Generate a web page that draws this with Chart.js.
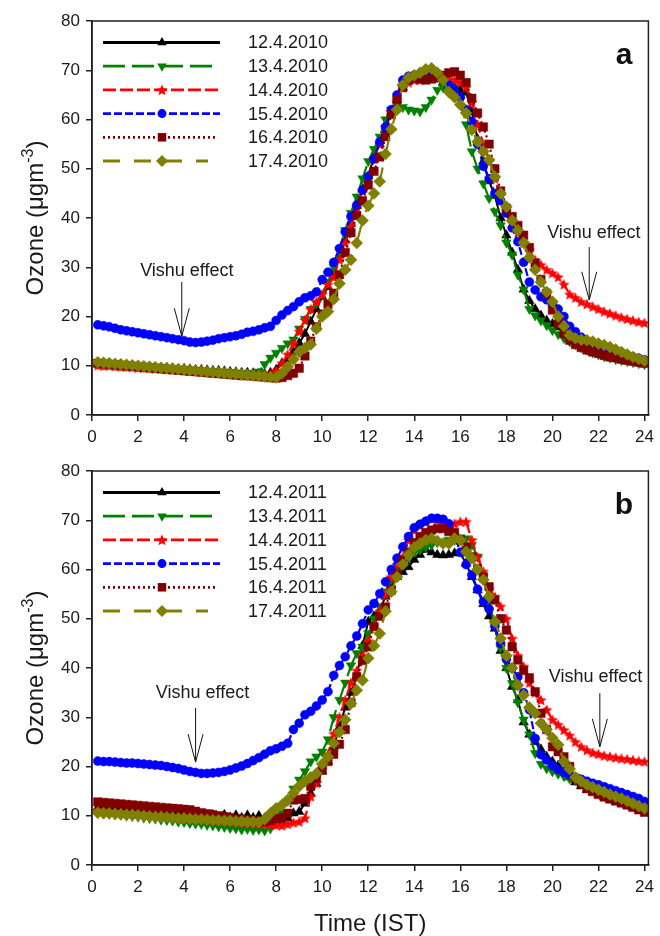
<!DOCTYPE html>
<html>
<head>
<meta charset="utf-8">
<script src="https://cdn.jsdelivr.net/npm/chart.js@4.4.0/dist/chart.umd.min.js"></script>
<style>
  body { margin: 0; background: #fff; }
  #wrap { position: relative; width: 660px; height: 936px; }
  .box { position: absolute; left: 0; width: 660px; }
</style>
</head>
<body>
<div id="wrap">
  <div class="box" style="top:0;height:450px"><canvas id="chartA" width="660" height="450"></canvas></div>
  <div class="box" style="top:450px;height:486px"><canvas id="chartB" width="660" height="486"></canvas></div>
</div>
<script>
// sample times, every 15 min (hours IST)
const hours = Array.from({ length: 96 }, (_, i) => (i + 1) * 0.25);
const xTicks = [0, 2, 4, 6, 8, 10, 12, 14, 16, 18, 20, 22, 24];
const yTicks = [0, 10, 20, 30, 40, 50, 60, 70, 80];

const dates2010 = ['12.4.2010', '13.4.2010', '14.4.2010', '15.4.2010', '16.4.2010', '17.4.2010'];
const dates2011 = ['12.4.2011', '13.4.2011', '14.4.2011', '15.4.2011', '16.4.2011', '17.4.2011'];

// ---- 2010 (panel a), ozone ugm-3
const o3_12apr2010 = [10.4,10.4,10.3,10.2, 10.1,10.1,10.0,9.9, 9.8,9.8,9.7,9.6, 9.6,9.5,9.4,9.4, 9.3,9.2,9.2,9.1, 9.0,9.0,8.9,8.8,
  8.7,8.6,8.6,8.5, 8.4,8.3,8.6,9.2, 10.5,11.3,12.8,14.6, 16.5,19,21.5,24, 26,29,32.5,35.5, 38.8,42.5,45.8,48.5,
  52.5,55,58,61.5, 64,66.5,68,68.5, 69,70,69.5,68.5, 67.5,67,66.5,66, 65.5,61.5,56,51.5, 47.5,44.5,40,36.5,
  33,29.5,25.5,23.2, 21.5,20.2,19.2,18.5, 17.8,17,16.3,15.6, 15,14.3,13.7,13.2, 12.8,12.4,12,11.7, 11.4,11.1,10.9,10.7];
const o3_13apr2010 = [10.3,10.2,10.2,10.1, 10.0,9.9,9.9,9.8, 9.7,9.6,9.6,9.5, 9.4,9.4,9.3,9.2, 9.1,9.1,9.0,8.9, 8.9,8.8,8.7,8.7,
  8.6,8.5,8.5,8.4, 8.8,10.3,11.6,12.6, 13.6,14.5,15.3,17.5, 19.5,21.5,22.7,24.5, 27,30,33.5,37.5, 41,44.3,48,51.5,
  54,56.5,60,62, 63.2,62.5,62,61.8, 61.6,62.5,64,66, 66.5,67,66.5,64, 59,53.5,50,47, 44,41.3,38.5,35,
  32.5,28.5,25.5,21.5, 20.2,19.2,18.2,17.2, 16.4,15.6,14.9,14.3, 13.7,13.2,12.7,12.3, 11.9,11.6,11.3,11.1, 10.9,10.7,10.5,10.3];
const o3_14apr2010 = [10.1,10.0,10.0,9.9, 9.8,9.8,9.7,9.6, 9.6,9.5,9.4,9.4, 9.3,9.2,9.2,9.1, 9.0,9.0,8.9,8.8, 8.8,8.7,8.6,8.6,
  8.5,8.4,8.4,8.3, 8.2,8.2,8.3,9.0, 10.5,12.3,14.5,17, 19.3,21.5,23,24.5, 26.5,28,31.5,35, 38.5,42,45.5,48.5,
  52,55,58.5,61.5, 64,66.5,67.5,68, 68,68.5,68.5,68.5, 68.5,68.2,68,67.5, 66.5,63.5,59,55, 51.8,48,44.5,41.5,
  39,37,35,33.5, 31.5,30.5,29.5,28.8, 28,26.5,24.5,23.8, 23,22.5,22,21.5, 21,20.6,20.2,19.8, 19.5,19.2,18.9,18.7];
const o3_15apr2010 = [18.3,18.1,17.9,17.6, 17.3,17.1,16.9,16.7, 16.5,16.3,16.1,15.9, 15.7,15.5,15.3,15.1, 14.8,14.7,14.8,15.0, 15.2,15.5,15.7,15.9,
  16.1,16.4,16.8,17.0, 17.3,17.7,18.0,19.2, 20.3,21.2,22,23, 23.8,24.2,25,27.5, 29,31,33.8,37.2, 40.3,42.6,45.7,48.4,
  52,55.5,58.5,62, 65,68,68.8,69, 68.5,68.5,68.8,68.5, 68,67,66,64.5, 62,59.6,55,50.5, 48,45,43.5,41,
  38,35.2,31,27, 25.4,24,23.4,22.5, 21.5,20,18,16.9, 15.8,15,14.6,14.2, 13.7,13.2,12.8,12.5, 12.1,11.8,11.5,11.2];
const o3_16apr2010 = [10.5,10.4,10.3,10.2, 10.1,10.0,9.9,9.8, 9.7,9.6,9.5,9.4, 9.3,9.2,9.1,9.0, 8.9,8.8,8.7,8.6, 8.5,8.4,8.3,8.2,
  8.1,8.0,8.0,7.9, 7.8,7.7,7.6,7.5, 7.6,8.0,8.5,9.5, 12,15,17.9,20.5, 22.5,24.7,28.5,33, 37,40.5,43.5,46.7,
  49.5,52.4,56.5,61, 64,66.5,68,68.5, 68.2,68,68.2,68.5, 69,69.5,69.7,69, 67.5,64.3,61.3,58.5, 55,50,45.5,42,
  40.3,38.5,36.5,34, 30.8,27.5,24.7,21.3, 18.5,16.5,15.2,14.3, 13.7,13.2,12.8,12.5, 12.1,11.8,11.6,11.3, 11.1,10.9,10.7,10.5];
const o3_17apr2010 = [10.7,10.6,10.5,10.4, 10.3,10.2,10.1,10.0, 9.9,9.8,9.7,9.6, 9.5,9.4,9.3,9.2, 9.1,9.0,8.9,8.8, 8.7,8.6,8.5,8.4,
  8.3,8.2,8.1,8.0, 7.9,7.8,7.7,7.6, 8.5,9.8,11.3,12.8, 13.6,14.3,17.5,20, 21,23.5,26.7,29.5, 31.5,34.9,39.5,42.5,
  45,47.4,53,58, 62,67,68.5,69, 69.5,70.2,70.4,69.5, 68,65.6,64.5,63, 61.3,57.9,55.5,53.5, 51.8,48.4,45,42.3,
  39.5,37.5,35,32, 29.5,27,25,23, 20,18,16.2,15.6, 15.3,15.2,14.9,14.5, 14.2,13.8,13.3,12.8, 12.3,11.8,11.4,11];

// ---- 2011 (panel b)
const o3_12apr2011 = [11.6,11.5,11.4,11.3, 11.2,11.1,11.0,10.9, 10.8,10.7,10.6,10.5, 10.4,10.4,10.3,10.3, 10.2,10.0,10.2,9.7, 10.2,9.7,10.2,9.7,
  10.1,9.6,10.1,9.6, 10.0,9.5,9.2,9.0, 8.8,9.5,10.5,10.8, 12.5,14.5,16.5,19, 21,24,28,32, 35,38.2,44.5,49.4,
  50.5,51.8,54.5,57, 58.5,59.5,60.5,62, 63,64,63.5,63, 62.9,63,63.3,63.3, 61.2,58.5,55.8,53, 50.5,48,43.5,40,
  36.2,33.5,29,26.5, 25,23.5,22,21, 20.2,19,17.8,16.8, 16,15.3,14.8,14.3, 13.8,13.3,12.9,12.5, 12.1,11.7,11.3,11];
const o3_13apr2011 = [10.6,10.5,10.4,10.3, 10.2,10.0,9.9,9.8, 9.6,9.5,9.4,9.2, 9.1,9.0,8.8,8.7, 8.5,8.4,8.3,8.1, 8.0,7.8,7.7,7.5,
  7.4,7.2,7.3,7.1, 7.2,7.0,7.4,8.5, 10.5,13,15.5,17.3, 19,21,22,23, 25.5,30,33.5,37, 40.5,43,44.3,47,
  50,52.5,55.5,58, 60,61.5,62.5,63.5, 64,64.5,65,65.5, 65.5,66,66,66.5, 66.3,65,62.6,58.5, 53.5,48.5,44,40,
  36.9,33,29.5,26.5, 22.7,20.5,19.6,19, 18.5,18,17.5,17.2, 16.6,16,15.4,14.9, 14.3,13.8,13.3,12.9, 12.4,12,11.6,11.2];
const o3_14apr2011 = [11.2,11.1,11.0,10.9, 10.8,10.7,10.6,10.5, 10.4,10.3,10.2,10.1, 10.0,9.9,9.8,9.7, 9.6,9.5,9.4,9.3, 9.2,9.1,9.0,8.9,
  8.8,8.7,8.6,8.5, 8.4,8.3,8.2,8.1, 8.0,8.3,8.6,8.8, 9.5,13.9,16.6,19.5, 22.5,26.7,30,33.5, 37,39.5,42.5,45.5,
  48.5,51.5,55,58.5, 61,62.6,66,68, 69,69.8,70.3,70, 68.5,68.5,69.3,69.7, 69.7,66,62.5,59.6, 56,54.5,52.5,50,
  46,42.5,40.3,37, 35,33.5,31.5,29.5, 28.5,27.4,26.3,25, 24,23.3,22.8,22.5, 22.2,22,21.8,21.6, 21.5,21.3,21.1,21];
const o3_15apr2011 = [21.1,21.0,21.0,20.9, 20.8,20.7,20.7,20.6, 20.5,20.4,20.3,20.2, 20.0,19.8,19.6,19.3, 19.0,18.8,18.6,18.6, 18.7,18.8,19.0,19.3,
  19.7,20.1,20.6,21.2, 21.8,22.5,23.2,23.6, 24.1,24.7,27.5,28.8, 30.5,31.2,32.3,33.5, 35.2,38.5,40.5,42.3, 44.5,46.5,49,51.8,
  53.1,55.1,57.5,60, 62.3,64.6,66.7,68.5, 69.2,69.8,70.4,70.4, 70.2,69.3,67,63.5, 61,58.9,56,53.5, 52,48.5,45,41.8,
  40,38.2,35,31.5, 25.7,22.4,21.3,20.2, 19.4,18.8,18.3,17.8, 17.4,17,16.6,16.3, 15.9,15.5,15.1,14.7, 14.3,13.9,13.5,12.9];
const o3_16apr2011 = [12.8,12.7,12.6,12.5, 12.4,12.3,12.2,12.1, 12.0,11.9,11.8,11.7, 11.6,11.5,11.4,11.3, 11.2,10.9,10.6,10.4, 10.2,10.0,9.8,9.6,
  9.4,9.3,9.2,9.0, 8.8,8.8,9.1,9.5, 9.6,10.5,13.2,13.3, 13.5,16,17.6,19.3, 21,22.5,24.5,27.5, 33,38.2,41.5,44.3,
  48.4,50.5,52.4,55.8, 59,61.9,63.5,65.5, 66.7,67.5,68,68.3, 68.3,67.7,67.5,66, 64.5,62.6,60.2,58.5, 56.5,53.8,50,47.7,
  44.3,41.6,39.5,38, 35.2,30.8,27.5,24, 23,22,20,17.6, 16.5,15.5,14.9,14.3, 13.8,13.4,13,12.6, 12.2,11.7,11.2,10.7];
const o3_17apr2011 = [10.6,10.5,10.5,10.4, 10.3,10.2,10.2,10.1, 10.0,9.9,9.8,9.8, 9.7,9.6,9.5,9.5, 9.4,9.3,9.3,9.2, 9.1,9.1,9.0,9.0,
  8.9,8.9,8.8,8.8, 8.7,9.3,10.5,11.5, 12.2,13.2,14.6,16, 17,17.8,18.6,20.5, 22,24.7,27,29.5, 32.8,35.5,37.5,42,
  44.5,47,51.5,55.5, 58.5,61,63,64.5, 65.3,66,66.3,65.8, 65.3,65.3,66.3,66, 63.6,62.3,60,57.9, 54.5,49.4,46,42.5,
  40,36.5,34.5,32, 30.8,28.8,27.5,25.8, 24.4,21,19.5,17.8, 17,16.3,15.8,15.3, 14.8,14.3,13.9,13.5, 13,12.5,12,11.5];

// "Vishu effect" notes, in data units
const notes2010 = [
  { tx: 4.12, ty: 29.2, ax: 3.9, top: 27.0, tip: 16.0 },
  { tx: 21.8, ty: 37.0, ax: 21.6, top: 34.1, tip: 23.4 }
];
const notes2011 = [
  { tx: 4.8, ty: 34.9, ax: 4.5, top: 31.9, tip: 20.9 },
  { tx: 21.87, ty: 38.2, ax: 22.06, top: 34.9, tip: 24.0 }
];

// styles per day (same in both panels)
const lineColors = ['#000000', '#008000', '#ff0000', '#0000ff', '#800000', '#808000'];
const markerStyles = ['triangle', 'triangle', 'star', 'circle', 'rect', 'rectRot'];
const markerRotation = [0, 180, 0, 0, 0, 0];
const markerRadius = [5.5, 5.5, 6, 4.5, 6, 6];
const lineDashes = [[], [22, 7], [13, 4], [8, 3], [2, 3], [17, 14]];
const legendLength = [117, 110, 117, 117, 112, 105];
const FONT = '"Liberation Sans", Arial, sans-serif';

// filled five point star for 14.4 (chart.js 'star' is only stroked)
function starMarker(size, color) {
  const c = document.createElement('canvas');
  c.width = size; c.height = size;
  const g = c.getContext('2d');
  g.fillStyle = color;
  g.beginPath();
  for (let i = 0; i < 10; i++) {
    const r = i % 2 ? size * 0.22 : size / 2;
    const a = -Math.PI / 2 + i * Math.PI / 5;
    g.lineTo(size / 2 + r * Math.cos(a), size / 2 + 0.5 + r * Math.sin(a));
  }
  g.closePath();
  g.fill();
  return c;
}
const redStar = starMarker(12, '#ff0000');

function makeDatasets(seriesList, labels) {
  return seriesList.map((vals, i) => ({
    label: labels[i],
    data: hours.map((h, k) => ({ x: h, y: vals[k] })),
    borderColor: lineColors[i],
    backgroundColor: lineColors[i],
    borderWidth: i === 0 ? 2 : 2.2,
    borderDash: lineDashes[i],
    pointStyle: markerStyles[i] === 'star' ? redStar : markerStyles[i],
    pointRotation: markerRotation[i],
    pointRadius: markerRadius[i],
    pointBackgroundColor: lineColors[i],
    pointBorderColor: lineColors[i],
    pointBorderWidth: 0.5,
    order: 5 - i,
    tension: 0
  }));
}

function mark(ctx, ds, x, y) {
  if (Chart.helpers && Chart.helpers.drawPoint) {
    Chart.helpers.drawPoint(ctx, { pointStyle: ds.pointStyle, rotation: ds.pointRotation, radius: ds.pointRadius, borderWidth: 0 }, x, y);
  } else {
    ctx.beginPath(); ctx.arc(x, y, ds.pointRadius, 0, Math.PI * 2); ctx.fill();
  }
}

const decorPlugin = {
  id: 'decor',
  afterDraw(chart, args, opts) {
    const { ctx, chartArea: area, scales: { x, y } } = chart;
    ctx.save();
    ctx.setLineDash([]);
    ctx.strokeStyle = '#222';
    ctx.lineWidth = 1.5;
    ctx.strokeRect(area.left, area.top, area.right - area.left, area.bottom - area.top);

    // legend: long line with marker in the middle
    chart.data.datasets.forEach((ds, i) => {
      const ly = area.top + 21.5 + 23.7 * i;
      const x0 = area.left + 11;
      ctx.strokeStyle = ds.borderColor;
      ctx.lineWidth = 2.8;
      ctx.setLineDash(ds.borderDash);
      ctx.beginPath(); ctx.moveTo(x0, ly); ctx.lineTo(x0 + legendLength[i], ly); ctx.stroke();
      ctx.setLineDash([]);
      ctx.fillStyle = ds.borderColor;
      mark(ctx, ds, area.left + 70, ly);
      ctx.fillStyle = '#1a1a1a';
      ctx.font = '18px ' + FONT;
      ctx.textAlign = 'left';
      ctx.textBaseline = 'middle';
      ctx.fillText(ds.label, area.left + 156, ly + 1);
    });

    // panel letter
    ctx.fillStyle = '#111';
    ctx.font = 'bold 30px ' + FONT;
    ctx.textAlign = 'center';
    ctx.textBaseline = 'alphabetic';
    ctx.fillText(opts.letter, 624, area.top + 43);

    // Vishu effect notes
    ctx.strokeStyle = '#111';
    ctx.lineWidth = 1;
    opts.notes.forEach(n => {
      ctx.fillStyle = '#1a1a1a';
      ctx.font = '18px ' + FONT;
      ctx.textAlign = 'center';
      ctx.textBaseline = 'middle';
      ctx.fillText('Vishu effect', x.getPixelForValue(n.tx), y.getPixelForValue(n.ty));
      const ax = x.getPixelForValue(n.ax);
      const tip = y.getPixelForValue(n.tip);
      ctx.beginPath();
      ctx.moveTo(ax, y.getPixelForValue(n.top)); ctx.lineTo(ax, tip);
      ctx.moveTo(ax - 7.5, tip - 28); ctx.lineTo(ax, tip); ctx.lineTo(ax + 7.5, tip - 28);
      ctx.stroke();
    });

    // y title with superscript
    ctx.save();
    ctx.translate(43, (area.top + area.bottom) / 2);
    ctx.rotate(-Math.PI / 2);
    ctx.fillStyle = '#1a1a1a';
    const big = '24px ' + FONT, small = '16px ' + FONT;
    ctx.font = big;
    const w1 = ctx.measureText('Ozone (\u03bcgm').width, w3 = ctx.measureText(')').width;
    ctx.font = small;
    const w2 = ctx.measureText('-3').width;
    let tx = -(w1 + w2 + w3) / 2;
    ctx.textAlign = 'left';
    ctx.textBaseline = 'alphabetic';
    ctx.font = big; ctx.fillText('Ozone (\u03bcgm', tx, 0); tx += w1;
    ctx.font = small; ctx.fillText('-3', tx, -10); tx += w2;
    ctx.font = big; ctx.fillText(')', tx, 0);
    ctx.restore();

    if (opts.timeTitle) {
      ctx.fillStyle = '#1a1a1a';
      ctx.font = '24px ' + FONT;
      ctx.textAlign = 'center';
      ctx.textBaseline = 'alphabetic';
      ctx.fillText('Time (IST)', (area.left + area.right) / 2, area.bottom + 66);
    }
    ctx.restore();
  }
};

function makeChart(id, seriesList, labels, letter, notes, padBottom, timeTitle) {
  const tickFont = { family: FONT, size: 17 };
  return new Chart(document.getElementById(id), {
    type: 'line',
    data: { datasets: makeDatasets(seriesList, labels) },
    options: {
      responsive: false,
      animation: false,
      events: [],
      layout: { padding: { top: 21, right: 5, left: 0, bottom: padBottom } },
      plugins: {
        legend: { display: false },
        tooltip: { enabled: false },
        decor: { letter: letter, notes: notes, timeTitle: timeTitle }
      },
      scales: {
        x: {
          type: 'linear', min: 0, max: 24.17,
          afterBuildTicks: s => { s.ticks = xTicks.map(v => ({ value: v })); },
          afterFit: s => { s.height = 35; },
          ticks: { font: tickFont, color: '#1a1a1a', padding: 6, maxRotation: 0, autoSkip: false },
          grid: { drawOnChartArea: false, drawTicks: true, tickLength: 6, color: '#222', lineWidth: 1.5 },
          border: { display: true, color: '#222', width: 1.5 }
        },
        y: {
          type: 'linear', min: 0, max: 80,
          afterBuildTicks: s => { s.ticks = yTicks.map(v => ({ value: v })); },
          afterFit: s => { s.width = 92; },
          ticks: { font: tickFont, color: '#1a1a1a', padding: 6 },
          grid: { drawOnChartArea: false, drawTicks: true, tickLength: 6, color: '#222', lineWidth: 1.5 },
          border: { display: true, color: '#222', width: 1.5 }
        }
      }
    },
    plugins: [decorPlugin]
  });
}

makeChart('chartA', [o3_12apr2010, o3_13apr2010, o3_14apr2010, o3_15apr2010, o3_16apr2010, o3_17apr2010],
  dates2010, 'a', notes2010, 0, false);
makeChart('chartB', [o3_12apr2011, o3_13apr2011, o3_14apr2011, o3_15apr2011, o3_16apr2011, o3_17apr2011],
  dates2011, 'b', notes2011, 36, true);
</script>
</body>
</html>
